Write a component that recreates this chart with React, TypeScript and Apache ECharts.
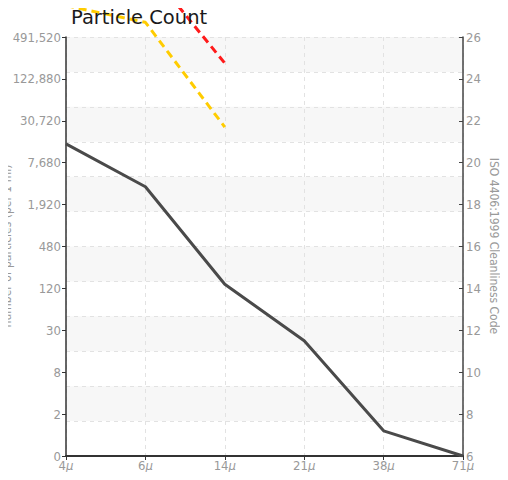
import React, { useEffect, useRef } from "react";
import * as echarts from "echarts";

const categories = ["4", "6", "14", "21", "38", "71"];
const leftTickLabels = ["0", "2", "8", "30", "120", "480", "1,920", "7,680", "30,720", "122,880", "491,520"];
// values in ISO 4406 code units (right axis scale)
const measured = [20.9, 18.85, 14.2, 11.5, 7.2, 6.0];
const limitYellow = [27.5, 26.7, 21.7, null, null, null];
const limitRed = [null, 29.4, 24.75, null, null, null];
const leftAxisName = "number of particles (per 1 ml)";
const rightAxisName = "ISO 4406:1999 Cleanliness Code";

const FONT = "'Liberation Sans Narrow', 'DejaVu Sans Condensed', 'Roboto', sans-serif";

export default function App() {
  const ref = useRef<HTMLDivElement>(null);
  useEffect(() => {
    if (!ref.current) return;
    const chart = echarts.init(ref.current, undefined, { renderer: "svg" });
    chart.setOption({
      animation: false,
      title: {
        text: "Particle Count",
        left: 66,
        top: 2,
        textStyle: { fontFamily: "'DejaVu Sans', sans-serif", fontSize: 19.5, fontWeight: "normal", color: "#1a1a1a" },
      },
      grid: { left: 66, right: 45, top: 37, bottom: 24, containLabel: false, outerBoundsMode: "none" },
      graphic: [
        {
          type: "text",
          x: 1,
          y: 246,
          rotation: Math.PI / 2,
          z: 100,
          style: {
            text: leftAxisName,
            fontFamily: FONT,
            fontSize: 12,
            fill: "#999",
            align: "center",
            verticalAlign: "top",
          },
        },
        {
          type: "text",
          x: 494,
          y: 246,
          rotation: -Math.PI / 2,
          style: {
            text: rightAxisName,
            fontFamily: FONT,
            fontSize: 12,
            fill: "#999",
            align: "center",
            verticalAlign: "middle",
          },
        },
      ],
      xAxis: {
        type: "category",
        data: categories,
        boundaryGap: false,
        axisLine: { lineStyle: { color: "#333", width: 2 } },
        axisTick: { show: true, length: 4, lineStyle: { color: "#333" }, alignWithLabel: true },
        axisLabel: {
          margin: 3,
          formatter: (v: string) => `{n|${v}}{u|μ}`,
          rich: {
            n: { fontFamily: FONT, fontSize: 13, color: "#999" },
            u: { fontFamily: FONT, fontSize: 13, color: "#999", fontStyle: "italic" },
          },
        },
        splitLine: { show: true, lineStyle: { color: "#e2e2e2", type: [4, 4], width: 1 } },
      },
      yAxis: [
        {
          type: "value",
          position: "left",
          min: 6,
          max: 26,
          interval: 2,
          axisLine: { show: true, lineStyle: { color: "#333", width: 1.5 } },
          axisTick: { show: true, length: 4, lineStyle: { color: "#333" } },
          axisLabel: {
            margin: 5,
            fontFamily: FONT,
            fontSize: 13,
            color: "#999",
            formatter: (v: number) => leftTickLabels[Math.round((v - 6) / 2)] ?? "",
          },
          splitLine: { show: false },
        },
        {
          type: "value",
          position: "right",
          min: 6,
          max: 26,
          interval: 2,
          axisLine: { show: true, lineStyle: { color: "#444", width: 1.5 } },
          axisTick: { show: true, inside: true, length: 4, lineStyle: { color: "#444" } },
          axisLabel: { margin: 3, fontFamily: FONT, fontSize: 13, color: "#999" },
          splitLine: { show: false },
        },
        {
          type: "value",
          position: "left",
          min: 0,
          max: 12,
          interval: 1,
          axisLine: { show: false },
          axisTick: { show: false },
          axisLabel: { show: false },
          splitLine: { show: true, lineStyle: { color: "#e2e2e2", type: [4, 4], width: 1 } },
          splitArea: { show: true, areaStyle: { color: ["rgba(255,255,255,0)", "#f7f7f7"] } },
        },
      ],
      series: [
        {
          type: "line",
          yAxisIndex: 0,
          data: measured,
          symbol: "none",
          lineStyle: { color: "#4a4a4a", width: 3 },
          z: 5,
        },
        {
          type: "line",
          yAxisIndex: 0,
          data: limitYellow,
          symbol: "none",
          clip: false,
          lineStyle: { color: "#ffcc00", width: 3, type: [8, 5] },
          z: 4,
        },
        {
          type: "line",
          yAxisIndex: 0,
          data: limitRed,
          symbol: "none",
          clip: false,
          lineStyle: { color: "#ff1a1a", width: 3, type: [8, 5] },
          z: 4,
        },
      ],
    });
    return () => chart.dispose();
  }, []);
  return <div ref={ref} style={{ width: 508, height: 480, margin: -8 }} />;
}
